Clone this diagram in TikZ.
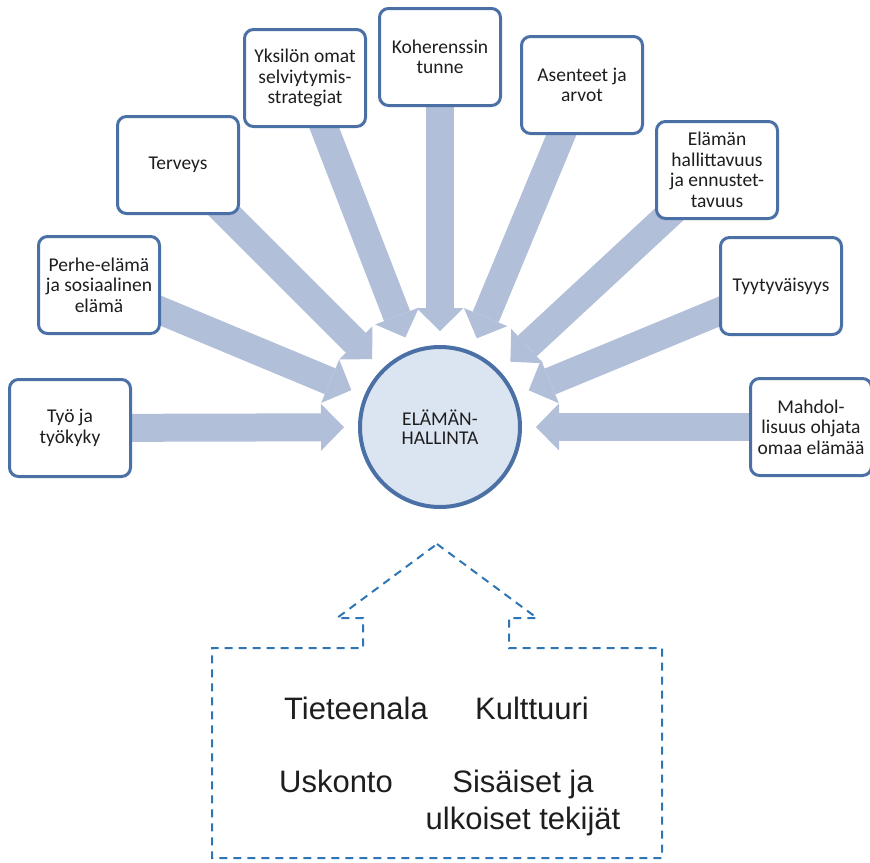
\documentclass[tikz,border=0pt]{standalone}
\usepackage{fontspec}
\setmainfont{Carlito}
\newfontfamily\arialf{Liberation Sans}
\usetikzlibrary{arrows.meta,calc,backgrounds}
\definecolor{arrowcol}{RGB}{177,191,217}
\definecolor{boxline}{RGB}{74,112,166}
\definecolor{circfill}{RGB}{219,229,241}
\definecolor{dashcol}{RGB}{46,117,182}
\definecolor{txtcol}{RGB}{30,30,30}
\begin{document}
\begin{tikzpicture}[x=1pt,y=-1pt,
  box/.style={draw=boxline, line width=3pt, rounded corners=9pt, fill=white,
    minimum width=121pt, minimum height=97pt, align=center, inner sep=0pt,
    font=\fontsize{19.5}{20.5}\selectfont, text=txtcol},
  bigarrow/.style={draw=arrowcol, line width=28pt,
    -{Triangle[width=47pt,length=23pt,line width=0pt]}},
  bigtext/.style={font=\arialf\fontsize{31}{37}\selectfont, text=txtcol, align=center, inner sep=0pt}]
\useasboundingbox (0,0) rectangle (870,862);
\node[circle, draw=boxline, line width=4pt, fill=circfill, minimum size=160pt,
  align=center, inner sep=0pt, font=\fontsize{19.5}{19.5}\selectfont, text=txtcol]
  (c) at (440,427) {ELÄMÄN-\\HALLINTA};
\node[box] (tyo) at (70,428) {Työ ja\\työkyky};
\node[box] (perhe) at (99,285) {Perhe-elämä\\ja sosiaalinen\\elämä};
\node[box] (terv) at (178,165) {Terveys};
\node[box] (yks) at (305,78) {Yksilön omat\\selviytymis-\\strategiat};
\node[box] (koh) at (440,57) {Koherenssin\\tunne};
\node[box] (ase) at (582,85) {Asenteet ja\\arvot};
\node[box] (ela) at (717,170) {Elämän\\hallittavuus\\ja ennustet-\\tavuus};
\node[box] (tyyt) at (781,286) {Tyytyväisyys};
\node[box] (mahd) at (811,427) {Mahdol-\\lisuus ohjata\\omaa elämää};
\begin{scope}[on background layer]
\foreach \b in {tyo,perhe,terv,yks,koh,ase,ela,tyyt,mahd}
  \draw[bigarrow] (\b.center) -- ($(c.center)!96pt!(\b.center)$);
\end{scope}
\draw[dashcol, line width=2pt, dash pattern=on 8pt off 6pt]
  (437,544) -- (537,618) -- (509,618) -- (509,648) -- (662,648) -- (662,858)
  -- (212,858) -- (212,648) -- (363,648) -- (363,618) -- (337,618) -- cycle;
\node[bigtext, anchor=base] (tie) at (356,719) {Tieteenala};
\node[bigtext, anchor=base] (kul) at (532,719) {Kulttuuri};
\node[bigtext, anchor=base] (usk) at (336,792) {Uskonto};
\node[bigtext, anchor=base] (sis) at (523,829) {Sisäiset ja\\ulkoiset tekijät};
\end{tikzpicture}
\end{document}
